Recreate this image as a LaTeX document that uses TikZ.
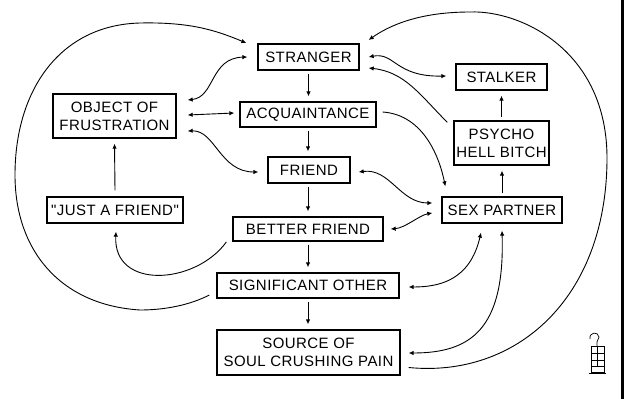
\documentclass[tikz,border=0pt]{standalone}
\usepackage{fontspec}
\setmainfont{Liberation Sans}
\newfontfamily\handfont[LetterSpace=3]{Liberation Sans}
\usetikzlibrary{arrows.meta,calc}
\begin{document}
\begin{tikzpicture}[x=1pt,y=-1pt,
  box/.style={draw,line width=1.3pt,inner sep=0pt,font=\handfont\fontsize{15}{18}\selectfont,align=center},
  conn/.style={line width=0.9pt,-{Latex[length=5pt,width=4.5pt]}},
  dconn/.style={line width=0.9pt,{Latex[length=5pt,width=4.5pt]}-{Latex[length=5pt,width=4.5pt]}},
  vconn/.style={conn,shorten <=3pt,shorten >=5pt}
  ]
\useasboundingbox (0,0) rectangle (625,399);
\fill[white] (0,0) rectangle (625,399);
% nodes
\node[box,minimum width=101pt,minimum height=26pt] (st) at (308.5,57) {STRANGER};
\node[box,minimum width=136pt,minimum height=25pt] (ac) at (308,114.5) {ACQUAINTANCE};
\node[box,minimum width=82pt,minimum height=26pt] (fr) at (309,170) {FRIEND};
\node[box,minimum width=123pt,minimum height=44pt] (oof) at (114.5,116) {OBJECT OF\\FRUSTRATION};
\node[box,minimum width=136pt,minimum height=26pt] (jaf) at (115,210) {"JUST A FRIEND"};
\node[box,minimum width=150pt,minimum height=24pt] (bf) at (308,229) {BETTER FRIEND};
\node[box,minimum width=182pt,minimum height=25pt] (so) at (308,285.5) {SIGNIFICANT OTHER};
\node[box,minimum width=183pt,minimum height=45pt] (src) at (308.5,352.5) {SOURCE OF\\SOUL CRUSHING PAIN};
\node[box,minimum width=91pt,minimum height=26pt] (stk) at (501.5,77) {STALKER};
\node[box,minimum width=95pt,minimum height=44pt] (ps) at (501.5,143) {PSYCHO\\HELL BITCH};
\node[box,minimum width=120pt,minimum height=26pt] (sp) at (502,210) {SEX PARTNER};
% vertical chain
\draw[vconn] (st.south) -- (st.south |- ac.north);
\draw[vconn] (ac.south) -- (ac.south |- fr.north);
\draw[vconn] (fr.south -| bf.north) -- (bf.north);
\draw[vconn] (bf.south) -- (so.north);
\draw[vconn] (so.south) -- (so.south |- src.north);
\draw[vconn] (ps.north) -- (ps.north |- stk.south);
\draw[vconn] (sp.north) -- (sp.north |- ps.south);
\draw[conn] ($(jaf.north)+(0,-6)$) -- ($(oof.south)+(0,5)$);
% left loop
\draw[conn] ($(so.west)+(-7,9.5)$) .. controls (190,305) and (165,310) .. (140,310)
  .. controls (60,305) and (15,250) .. (15,175)
  .. controls (15,90) and (60,25) .. (140,23)
  .. controls (190,22) and (215,30) .. ($(st.west)+(-11,-14)$);
% left side links
\draw[dconn] ($(oof.east)+(11,-16)$) .. controls (215,97) and (210,58) .. ($(st.west)+(-10,0)$);
\draw[dconn] ($(oof.east)+(11,-1)$) -- ($(ac.west)+(-5,-1.5)$);
\draw[dconn] ($(oof.east)+(11,15)$) .. controls (215,130) and (220,172) .. ($(fr.west)+(-9,2)$);
\draw[conn] ($(bf.west)+(-6,13)$) .. controls (195,285) and (113,290) .. ($(jaf.south)+(1,8)$);
% right side links
\draw[dconn] ($(st.east)+(9,0)$) .. controls (395,52) and (395,77) .. ($(stk.west)+(-9,-1)$);
\draw[conn] ($(ps.north west)+(-6,2)$) .. controls (420,95) and (405,72) .. ($(st.east)+(9,11)$);
\draw[conn] ($(ac.east)+(6,-2.5)$) .. controls (425,115) and (440,160) .. ($(sp.north west)+(4,-10)$);
\draw[dconn] ($(fr.east)+(8,2)$) .. controls (390,168) and (400,203) .. ($(sp.west)+(-9,-7)$);
\draw[dconn] ($(bf.east)+(7,0)$) .. controls (405,228) and (420,215) .. ($(sp.west)+(-9,3)$);
\draw[dconn] ($(sp.south)+(-21,9)$) .. controls (470,280) and (440,287) .. ($(so.east)+(9,1.5)$);
\draw[dconn] ($(sp.south)+(0,7)$) .. controls (505,330) and (470,353) .. ($(src.east)+(8,0.5)$);
% right loop
\draw[conn] ($(src.east)+(8,15)$) .. controls (515,378) and (606,300) .. (607,160)
  .. controls (608,50) and (520,10) .. (470,12)
  .. controls (420,12) and (390,25) .. ($(st.east)+(9,-17)$);
% signature
\draw[line width=0.7pt] (590,339) .. controls (589,332) and (598,331) .. (599,337) -- (597,342) -- (597,346);
\draw[line width=0.7pt] (591,346) rectangle (604,372);
\draw[line width=0.7pt] (591,353) -- (604,353) (591,360) -- (604,360) (591,366) -- (604,366) (597,346) -- (597,366);
\draw[line width=0.7pt] (589,373) -- (606,373);
% right border
\draw[line width=3pt] (622,0) -- (622,399);
\end{tikzpicture}
\end{document}
